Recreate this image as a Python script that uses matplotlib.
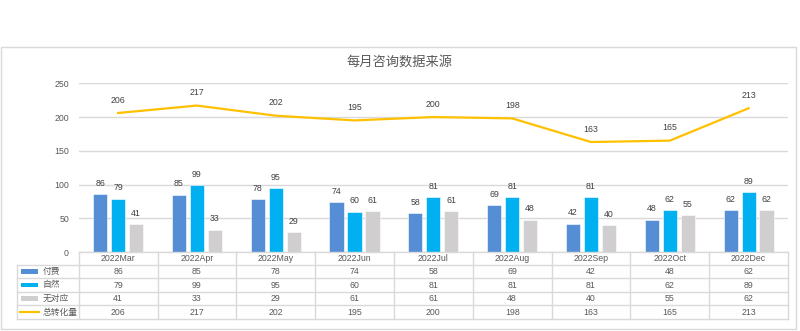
import matplotlib
matplotlib.use("Agg")
import matplotlib.pyplot as plt
from matplotlib.patches import Rectangle
from matplotlib.lines import Line2D
import matplotlib.transforms as mtransforms
import numpy as np

plt.rcParams['font.family'] = ['Liberation Sans', 'Noto Sans CJK SC', 'DejaVu Sans']

title = "每月咨询数据来源"
categories = ["2022Mar", "2022Apr", "2022May", "2022Jun", "2022Jul",
              "2022Aug", "2022Sep", "2022Oct", "2022Dec"]
series_names = ["付费", "自然", "无对应", "总转化量"]
paid = [86, 85, 78, 74, 58, 69, 42, 48, 62]
natural = [79, 99, 95, 60, 81, 81, 81, 62, 89]
unmatched = [41, 33, 29, 61, 61, 48, 40, 55, 62]
total = [206, 217, 202, 195, 200, 198, 163, 165, 213]
yticks = [0, 50, 100, 150, 200, 250]

colors = ["#558ED5", "#00B0F0", "#D0CECE", "#FFC000"]
txt = "#595959"
grid = "#D9D9D9"

W, H = 800, 331
fig = plt.figure(figsize=(W / 100, H / 100), dpi=100)

def fx(x):
    return x / W

def fy(y):
    return 1 - y / H

# chart border
fig.patches.append(Rectangle((fx(1), fy(329)), fx(795), (328 - 46) / H,
                             transform=fig.transFigure, fill=False,
                             edgecolor=grid, linewidth=1))

ax_l, ax_r, ax_t, ax_b = 78.7, 788, 83.3, 252
ax = fig.add_axes([fx(ax_l), fy(ax_b), (ax_r - ax_l) / W, (ax_b - ax_t) / H])
n = len(categories)
x = np.arange(n)
ax.set_xlim(-0.5, n - 0.5)
ax.set_ylim(0, 250)
for s in ax.spines.values():
    s.set_visible(False)
ax.set_yticks(yticks)
ax.set_yticklabels([str(v) for v in yticks])
ax.tick_params(axis='y', length=0, labelsize=6.3, labelcolor=txt, pad=7)
ax.set_xticks([])
ax.yaxis.grid(True, color=grid, linewidth=1)
ax.set_axisbelow(True)

bw = 0.18
off = 0.228
for vals, c, o in zip([paid, natural, unmatched], colors[:3], [-off, 0, off]):
    bars = ax.bar(x + o, vals, width=bw, color=c, edgecolor="white", linewidth=0.4, zorder=2)
    for xi, v in zip(x + o, vals):
        ax.annotate(str(v), (xi, v), xytext=(0, 4.5), textcoords="offset points",
                    ha="center", va="bottom", fontsize=6.3, color="#404040")

ax.plot(x, total, color=colors[3], linewidth=1.6, zorder=3, solid_joinstyle="miter")
for xi, v in zip(x, total):
    ax.annotate(str(v), (xi, v), xytext=(0, 6), textcoords="offset points",
                ha="center", va="bottom", fontsize=6.3, color="#404040")

fig.text(0.5, fy(62), title, ha="center", va="center", fontsize=9.5, color=txt)

# data table
row_edges = [252.3, 265, 278.3, 291.7, 305.4, 319]
leg_l = 17.3
trans = mtransforms.blended_transform_factory(ax.transData, fig.transFigure)
# horizontal lines
for i, yy in enumerate(row_edges):
    x0 = ax_l if i == 0 else leg_l
    fig.add_artist(Line2D([fx(x0), fx(ax_r)], [fy(yy), fy(yy)], color=grid,
                          linewidth=1, transform=fig.transFigure))
# vertical lines
for b in np.arange(n + 1) - 0.5:
    fig.add_artist(Line2D([b, b], [fy(row_edges[0]), fy(row_edges[-1])], color=grid,
                          linewidth=1, transform=trans))
fig.add_artist(Line2D([fx(leg_l), fx(leg_l)], [fy(row_edges[1]), fy(row_edges[-1])],
                      color=grid, linewidth=1, transform=fig.transFigure))

# header
hy = (row_edges[0] + row_edges[1]) / 2
for xi, c in zip(x, categories):
    fig.text(xi, fy(hy), c, transform=trans, ha="center", va="center",
             fontsize=6.3, color=txt)

rows = [paid, natural, unmatched, total]
for r, (name, vals, c) in enumerate(zip(series_names, rows, colors)):
    yc = (row_edges[r + 1] + row_edges[r + 2]) / 2
    for xi, v in zip(x, vals):
        fig.text(xi, fy(yc), str(v), transform=trans, ha="center", va="center",
                 fontsize=6.3, color=txt)
    if r < 3:
        fig.patches.append(Rectangle((fx(20.7), fy(yc + 2.3)), fx(17), 4.6 / H,
                                     transform=fig.transFigure, facecolor=c,
                                     edgecolor="none"))
    else:
        fig.add_artist(Line2D([fx(20), fx(38.5)], [fy(yc), fy(yc)], color=c,
                              linewidth=1.6, transform=fig.transFigure))
    fig.text(fx(42.5), fy(yc), name, ha="left", va="center", fontsize=6.3, color=txt)

fig.savefig("out.png", dpi=100)
